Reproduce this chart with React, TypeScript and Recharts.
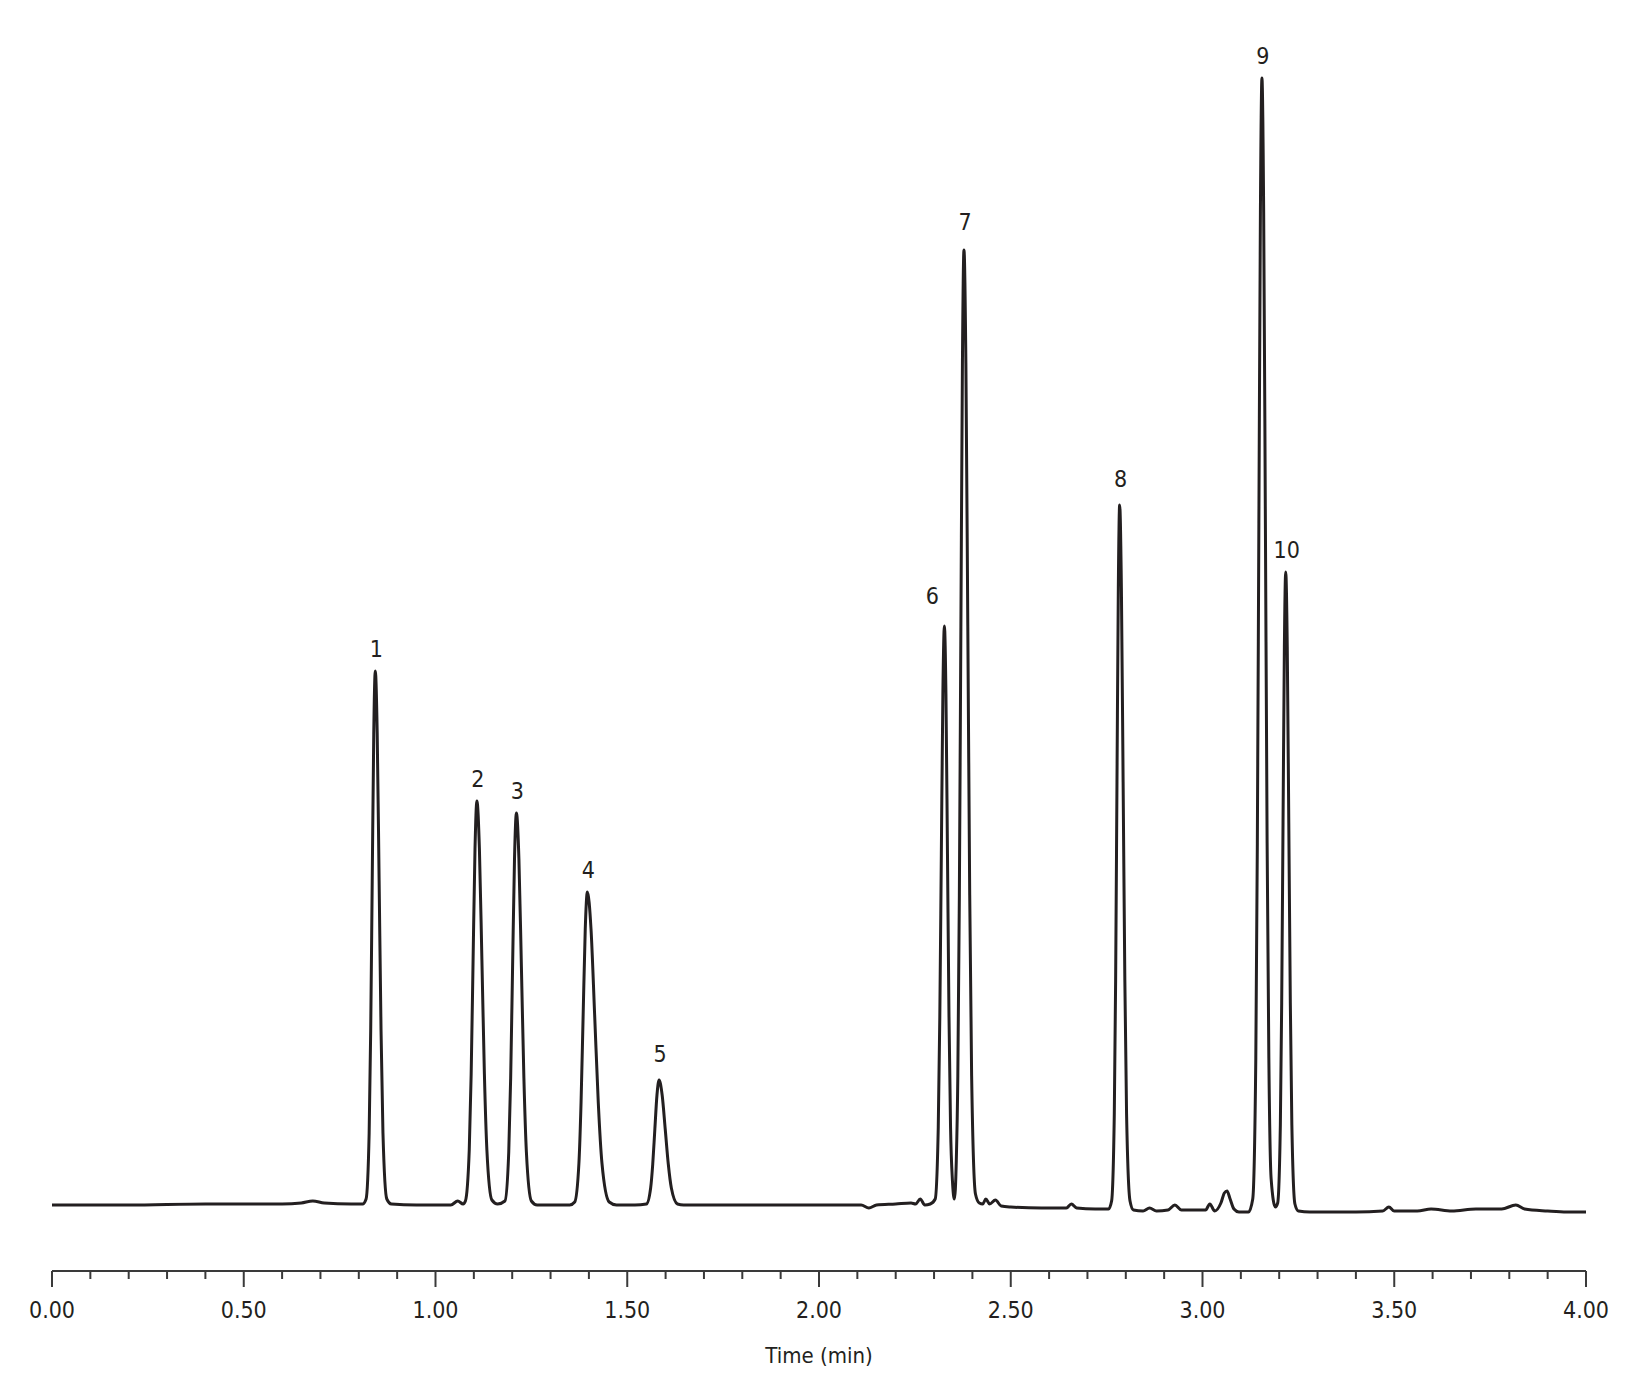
import { Label, Line, LineChart, ReferenceDot, XAxis, YAxis } from "recharts";

// detector trace: [time (min), signal]
const trace: [number, number][] = [
  [0.0, 66], [0.2, 66], [0.4, 67], [0.6, 67], [0.65, 68], [0.68, 70], [0.71, 68], [0.78, 67], [0.81, 67],
  [0.819, 72], [0.827, 138], [0.831, 240], [0.835, 390], [0.839, 537], [0.843, 600],
  [0.848, 537], [0.853, 390], [0.858, 240], [0.863, 138], [0.873, 72], [0.885, 67],
  [0.95, 66], [1.04, 66], [1.058, 70], [1.072, 67],
  [1.078, 70], [1.088, 121], [1.093, 197], [1.098, 311], [1.103, 422], [1.108, 470],
  [1.1145, 422], [1.121, 311], [1.1275, 197], [1.134, 121], [1.147, 71], [1.162, 67],
  [1.181, 70], [1.191, 119], [1.196, 193], [1.201, 304], [1.206, 412], [1.211, 458],
  [1.2175, 412], [1.224, 304], [1.2305, 193], [1.237, 119], [1.25, 70], [1.265, 66],
  [1.3, 66], [1.35, 66],
  [1.363, 69], [1.374, 108], [1.3795, 168], [1.385, 256], [1.3905, 342], [1.396, 379],
  [1.4055, 342], [1.415, 256], [1.4245, 168], [1.434, 108], [1.453, 69], [1.472, 66],
  [1.52, 66],
  [1.55, 67], [1.561, 83], [1.5665, 107], [1.572, 142], [1.5775, 176], [1.583, 191],
  [1.591, 176], [1.599, 142], [1.607, 107], [1.615, 83], [1.631, 67], [1.647, 66],
  [1.8, 66], [2.0, 66], [2.11, 66], [2.13, 63], [2.15, 66], [2.2, 67], [2.24, 68], [2.252, 67],
  [2.264, 72], [2.276, 66], [2.29, 67],
  [2.303, 72], [2.311, 144], [2.315, 254], [2.319, 417], [2.323, 577], [2.327, 645],
  [2.331, 577], [2.335, 417], [2.339, 254], [2.343, 144], [2.348, 90], [2.353, 72],
  [2.358, 110], [2.362, 195], [2.366, 376], [2.37, 646], [2.374, 908], [2.378, 1021],
  [2.383, 908], [2.388, 646], [2.393, 376], [2.398, 195], [2.408, 77], [2.418, 68],
  [2.427, 67], [2.435, 72], [2.445, 67], [2.46, 71], [2.475, 65], [2.5, 64], [2.58, 63],
  [2.645, 63], [2.658, 67], [2.672, 63], [2.72, 62], [2.755, 62],
  [2.763, 70], [2.77, 157], [2.7735, 291], [2.777, 489], [2.7805, 683], [2.784, 766],
  [2.7885, 683], [2.793, 489], [2.7975, 291], [2.802, 157], [2.811, 70], [2.82, 61],
  [2.845, 60], [2.862, 63], [2.88, 60], [2.91, 61], [2.928, 66], [2.945, 61], [2.99, 61],
  [3.008, 61], [3.019, 67], [3.032, 60], [3.048, 68], [3.057, 78], [3.064, 80], [3.072, 72],
  [3.082, 62], [3.095, 59], [3.12, 59],
  [3.131, 72], [3.139, 213], [3.143, 428], [3.147, 748], [3.151, 1059], [3.155, 1193],
  [3.1595, 1059], [3.164, 748], [3.1685, 428], [3.173, 213], [3.179, 92], [3.19, 64],
  [3.196, 68], [3.203, 146], [3.2065, 268], [3.21, 448], [3.2135, 624], [3.217, 699],
  [3.221, 624], [3.225, 448], [3.229, 268], [3.233, 146], [3.241, 67], [3.25, 60],
  [3.28, 59], [3.4, 59], [3.47, 60], [3.486, 64], [3.5, 60], [3.56, 60], [3.596, 62],
  [3.65, 60], [3.713, 62], [3.78, 62], [3.817, 66], [3.84, 62], [3.9, 60], [3.95, 59], [4.0, 59],
];

const peakTimes = [0.843, 1.108, 1.211, 1.396, 1.583, 2.327, 2.378, 2.784, 3.155, 3.217];
const peakHeights = [600, 470, 458, 379, 191, 645, 1021, 766, 1193, 699];
const peakLabels = ["1", "2", "3", "4", "5", "6", "7", "8", "9", "10"];

const xTicks = [
  0, 0.1, 0.2, 0.3, 0.4, 0.5, 0.6, 0.7, 0.8, 0.9, 1.0, 1.1, 1.2, 1.3, 1.4, 1.5, 1.6, 1.7, 1.8, 1.9, 2.0,
  2.1, 2.2, 2.3, 2.4, 2.5, 2.6, 2.7, 2.8, 2.9, 3.0, 3.1, 3.2, 3.3, 3.4, 3.5, 3.6, 3.7, 3.8, 3.9, 4.0,
];

const data = trace.map(([t, v]) => ({ t, v }));

const FONT = "'DejaVu Sans Condensed', 'DejaVu Sans', sans-serif";
const INK = "#231f20";

// a few labels sit a bit further from their apex in the original
const labelShift: Record<string, [number, number]> = {
  "5": [1, 18],
  "6": [-12, 22],
  "7": [1, 20],
  "8": [1, 18],
};

function TimeTick(props: any) {
  const { x, y, payload } = props;
  const major = Math.round(payload.value * 10) % 5 === 0;
  return (
    <g>
      <line x1={x} x2={x} y1={y} y2={y + (major ? 16 : 8)} stroke="#3a3a3a" strokeWidth={2} />
      {major && (
        <text x={x} y={y + 47} textAnchor="middle" fontFamily={FONT} fontSize={23} fill={INK}>
          {payload.value.toFixed(2)}
        </text>
      )}
    </g>
  );
}

export default function App() {
  return (
    <LineChart
      width={1615}
      height={1382}
      data={data}
      margin={{ top: 63, right: 37, bottom: 0, left: 44 }}
    >
      <XAxis
        type="number"
        dataKey="t"
        domain={[0, 4]}
        ticks={xTicks}
        interval={0}
        tickSize={0}
        tickMargin={0}
        tickLine={false}
        height={119}
        axisLine={{ stroke: "#3a3a3a", strokeWidth: 2 }}
        tick={<TimeTick />}
      >
        <Label
          content={(p: any) => {
            const vb = p.viewBox || {};
            return (
              <text
                x={vb.x + vb.width / 2}
                y={vb.y + 92}
                textAnchor="middle"
                fontFamily={FONT}
                fontSize={22}
                fill={INK}
              >
                Time (min)
              </text>
            );
          }}
        />
      </XAxis>
      <YAxis hide type="number" domain={[0, 1200]} />
      <Line
        type="monotone"
        dataKey="v"
        stroke={INK}
        strokeWidth={3}
        dot={false}
        isAnimationActive={false}
      />
      {peakTimes.map((t, i) => {
        const [dx, gap] = labelShift[peakLabels[i]] || [1, 14];
        return (
          <ReferenceDot
            key={peakLabels[i]}
            x={t}
            y={peakHeights[i]}
            r={0}
            ifOverflow="visible"
            shape={(p: any) => (
              <text
                x={p.cx + dx}
                y={p.cy - gap}
                textAnchor="middle"
                fontFamily={FONT}
                fontSize={23}
                fill={INK}
              >
                {peakLabels[i]}
              </text>
            )}
          />
        );
      })}
    </LineChart>
  );
}
